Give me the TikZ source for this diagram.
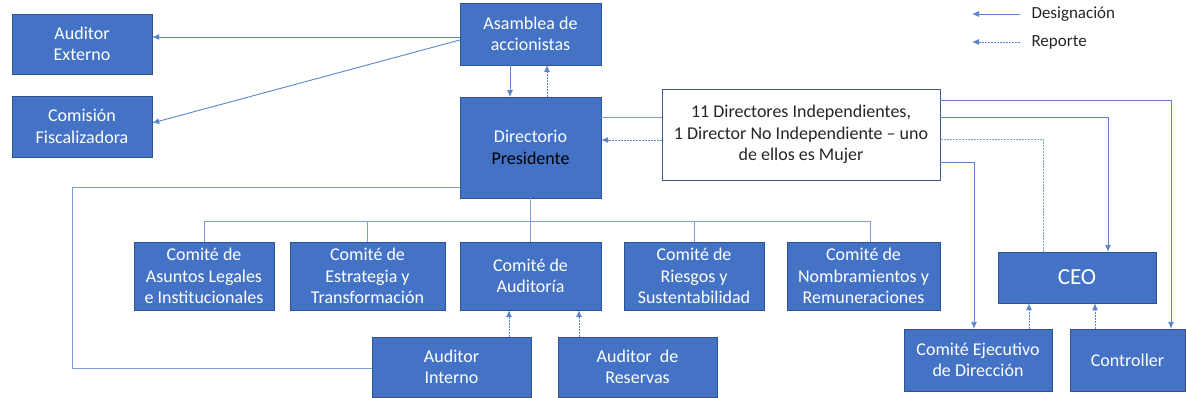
\documentclass[tikz,border=0pt]{standalone}
\usepackage{fontspec}
\setmainfont{Carlito}
\usetikzlibrary{calc,arrows.meta}
\definecolor{boxblue}{HTML}{4472C4}
\definecolor{boxedge}{HTML}{2F528F}
\definecolor{linkblue}{HTML}{5B84CC}
\definecolor{textgray}{HTML}{262626}

\begin{document}
\begin{tikzpicture}[x=1pt,y=-1pt,
  box/.style={draw=boxedge,fill=boxblue,text=white,align=center,inner sep=0pt,font=\fontsize{18}{21.5}\selectfont},
  wbox/.style={draw=boxedge!80!gray,fill=white,text=textgray,align=center,inner sep=0pt,font=\fontsize{18}{21.5}\selectfont},
  desig/.style={draw=linkblue,line width=0.9pt,-{Latex[length=7pt,width=6pt]}},
  rep/.style={desig,dash pattern=on 2pt off 1pt},
  link/.style={draw=linkblue!80!white,line width=0.9pt}]
\useasboundingbox (0,0) rectangle (1186,397);
\node[box,minimum width=140pt,minimum height=60pt] (ext) at (82,44) {Auditor\\Externo};
\node[box,minimum width=140pt,minimum height=61pt] (fisc) at (82,126.5) {Comisión\\Fiscalizadora};
\node[box,minimum width=141pt,minimum height=62pt] (asam) at (530.5,34) {Asamblea de\\accionistas};
\node[box,minimum width=141pt,minimum height=101pt] (dir) at (530.5,147.5) {Directorio\\\textcolor{black}{Presidente}};
\node[wbox,minimum width=278pt,minimum height=91pt] (indep) at (801,134.5) {11 Directores Independientes,\\1 Director No Independiente -- uno\\de ellos es Mujer};
\node[box,minimum width=140pt,minimum height=68pt] (legal) at (204,276) {Comité de\\Asuntos Legales\\e Institucionales};
\node[box,minimum width=155pt,minimum height=68pt] (estr) at (367.5,276) {Comité de\\Estrategia y\\Transformación};
\node[box,minimum width=141pt,minimum height=68pt] (aud) at (530.5,276) {Comité de\\Auditoría};
\node[box,minimum width=140pt,minimum height=68pt] (ries) at (694,276) {Comité de\\Riesgos y\\Sustentabilidad};
\node[box,minimum width=153pt,minimum height=68pt] (nomb) at (863.5,276) {Comité de\\Nombramientos y\\Remuneraciones};
\node[box,minimum width=159pt,minimum height=60pt] (aint) at (451.5,367) {Auditor\\Interno};
\node[box,minimum width=159pt,minimum height=60pt] (ares) at (637.5,367) {Auditor~~de\\Reservas};
\node[box,minimum width=158pt,minimum height=51pt,font=\fontsize{23}{27}\selectfont] (ceo) at (1077,277.5) {CEO};
\node[box,minimum width=148pt,minimum height=62pt] (ced) at (978,360) {Comité Ejecutivo\\de Dirección};
\node[box,minimum width=115pt,minimum height=62pt] (ctrl) at (1127.5,360) {Controller};
\coordinate (ld) at (1020,14);
\coordinate (lr) at (1020,42);
\node[anchor=west,text=textgray,font=\fontsize{17}{20}\selectfont] (ldt) at (1028,14) {Designación};
\node[anchor=west,text=textgray,font=\fontsize{17}{20}\selectfont] (lrt) at (1028,42) {Reporte};
\coordinate (bus) at (0,221);
\draw[desig] (ld) -- ++(-48,0);
\draw[rep] (lr) -- ++(-48,0);
\draw[desig] (asam.west|-0,37) -- (ext.east|-0,37);
\draw[desig] ($(asam.west)+(0,6)$) -- ($(fisc.east)+(0,-3.5)$);
\draw[desig] (510,65) -- (510,97);
\draw[rep] (547,97) -- (547,65);
\draw[link] (dir.east|-0,117) -- (indep.west|-0,117);
\draw[rep] (indep.west|-0,140) -- (dir.east|-0,140);
\draw[link] (dir.south) -- (dir.south|-bus);
\draw[link] (legal.north) -- (legal.north|-bus) -- (870,221) -- (nomb.north-|870,0);
\foreach \n in {estr,aud,ries} \draw[link] (\n.north) -- (\n.north|-bus);
\draw[link] (dir.west|-0,187) -- (72,187) -- (72,368) -- (aint.west|-0,368);
\draw[rep] (aint.north-|509,0) -- (aud.south-|509,0);
\draw[rep] (ares.north-|579,0) -- (aud.south-|579,0);
\draw[desig] (indep.east|-0,100) -- (1171,100) -- (ctrl.north-|1171,0);
\draw[desig] (indep.east|-0,117) -- (1108,117) -- (ceo.north-|1108,0);
\draw[link,dash pattern=on 2pt off 1pt] (ceo.north-|1043,0) -- (1043,139) -- (indep.east|-0,139);
\draw[desig] (indep.east|-0,162) -- (974,162) -- (ced.north-|974,0);
\draw[rep] (ced.north-|1029,0) -- (ceo.south-|1029,0);
\draw[rep] (ctrl.north-|1095,0) -- (ceo.south-|1095,0);
\end{tikzpicture}
\end{document}
